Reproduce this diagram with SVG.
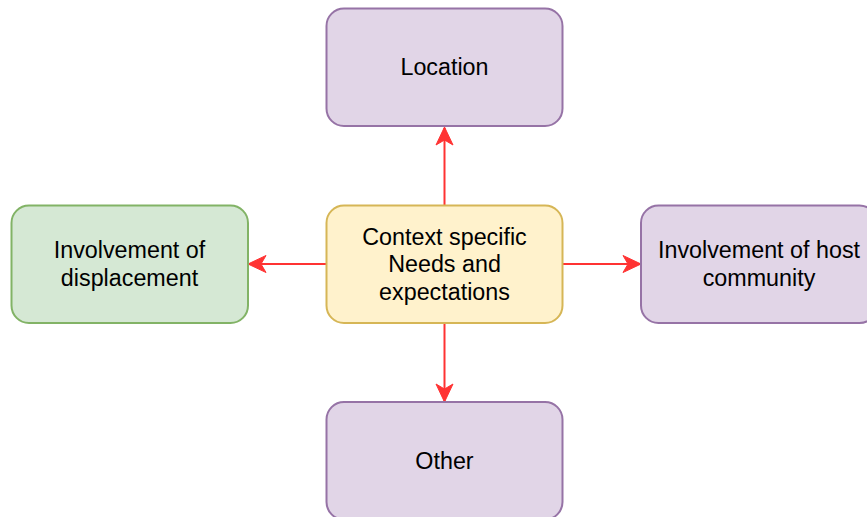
<svg xmlns="http://www.w3.org/2000/svg" width="867" height="517" viewBox="0 0 867 517">
<defs>
<style>
.box{stroke-width:2}
.purple{fill:#e1d5e7;stroke:#9673a6}
.yellow{fill:#fff2cc;stroke:#d6b656}
.green{fill:#d5e8d4;stroke:#82b366}
.lbl{font-family:"Liberation Sans",Arial,Helvetica,sans-serif;font-size:23.3px;fill:#000;text-anchor:middle;dominant-baseline:central}
.edge{stroke:#ff3333;stroke-width:2;fill:none}
</style>
<marker id="arr" viewBox="0 0 18 17" refX="17" refY="8.5" markerWidth="18" markerHeight="17" markerUnits="userSpaceOnUse" orient="auto" overflow="visible">
<path d="M0,0 L18,8.5 L0,17 L5,8.5 Z" fill="#ff3333" stroke="#ff3333" stroke-width="1" stroke-linejoin="miter"/>
</marker>
</defs>
<rect width="867" height="517" fill="#ffffff"/>
<g id="connectors">
<path class="edge" d="M444.5,205 L444.5,128" marker-end="url(#arr)"/>
<path class="edge" d="M326.5,264 L249,264" marker-end="url(#arr)"/>
<path class="edge" d="M562.5,264 L640,264" marker-end="url(#arr)"/>
<path class="edge" d="M444.5,323 L444.5,401" marker-end="url(#arr)"/>
</g>
<g id="location">
<rect class="box purple" x="326.5" y="8.5" width="236" height="117.5" rx="17.5"/>
<text class="lbl" x="444.5" y="67">Location</text>
</g>
<g id="center">
<rect class="box yellow" x="326.5" y="205.5" width="236" height="117.5" rx="17.5"/>
<text class="lbl" x="444.5" y="236.5">Context specific</text>
<text class="lbl" x="444.5" y="264">Needs and</text>
<text class="lbl" x="444.5" y="291.5">expectations</text>
</g>
<g id="displacement">
<rect class="box green" x="11.5" y="205.5" width="236.5" height="117.5" rx="17.5"/>
<text class="lbl" x="129.5" y="250">Involvement of</text>
<text class="lbl" x="129.5" y="277.5">displacement</text>
</g>
<g id="host">
<rect class="box purple" x="641" y="205.5" width="236" height="117.5" rx="17.5"/>
<text class="lbl" x="759" y="250">Involvement of host</text>
<text class="lbl" x="759" y="277.5">community</text>
</g>
<g id="other">
<rect class="box purple" x="326.5" y="402" width="236" height="117.5" rx="17.5"/>
<text class="lbl" x="444.5" y="460.5">Other</text>
</g>
</svg>
